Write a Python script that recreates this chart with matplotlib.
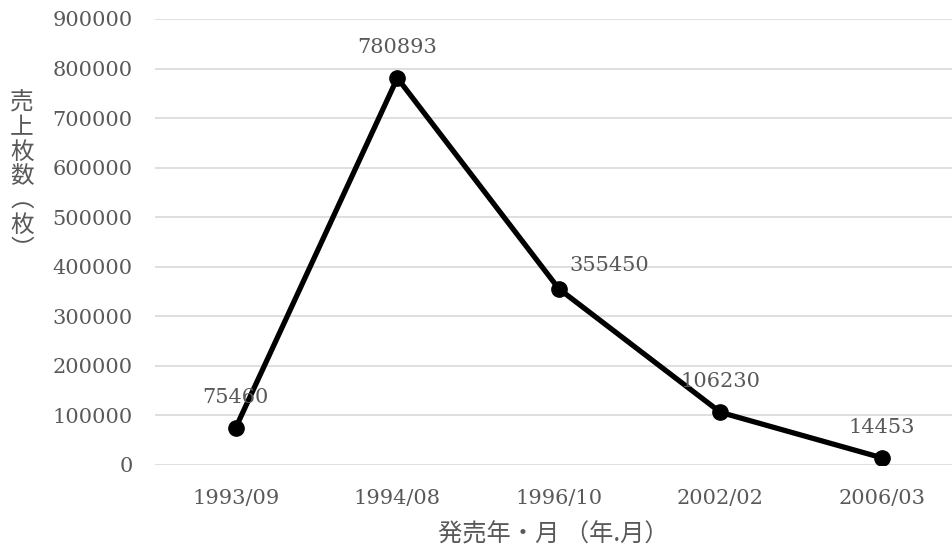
import matplotlib
matplotlib.use('Agg')
import matplotlib.pyplot as plt

plt.rcParams['font.family'] = ['DejaVu Serif', 'Noto Sans CJK JP']

months = ['1993/09', '1994/08', '1996/10', '2002/02', '2006/03']
sales = [75460, 780893, 355450, 106230, 14453]
y_ticks = list(range(0, 900001, 100000))
# label offsets in points (dx, dy); the third label sits off to the right
label_offsets = [(0, 22), (0, 22), (36, 17), (0, 22), (0, 22)]

xlabel = '発売年・月 （年.月）'
ylabel = '売上枚数︵枚︶'

grey = '#595959'

fig = plt.figure(figsize=(9.52, 5.52), dpi=100)
ax = fig.add_axes([155 / 952, 87 / 552, (952 - 155) / 952, 446 / 552])

x = list(range(len(months)))
ax.plot(x, sales, color='black', lw=3.8, marker='o', markersize=11,
        solid_capstyle='round', zorder=3)

for xi, v, (dx, dy) in zip(x, sales, label_offsets):
    ax.annotate(str(v), (xi, v), xytext=(dx, dy), textcoords='offset points',
                ha='center', va='center', fontsize=15, color=grey, zorder=4)

ax.set_xlim(-0.5, 4.433)
ax.set_ylim(0, 900000)
ax.set_xticks(x)
ax.set_xticklabels(months)
ax.set_yticks(y_ticks)
ax.set_yticklabels([str(t) for t in y_ticks])
ax.tick_params(axis='both', length=0, labelsize=15, labelcolor=grey)
ax.tick_params(axis='y', pad=16)
ax.tick_params(axis='x', pad=17)
ax.grid(axis='y', color='#d9d9d9', lw=1.2)
ax.set_axisbelow(True)
for s in ax.spines.values():
    s.set_visible(False)

ax.set_xlabel(xlabel, fontsize=17.5, color=grey, labelpad=10,
              family=['Noto Sans CJK JP', 'DejaVu Serif'])

# vertical stacked axis title
y0 = 552 - 103
pitch = 24.5
for i, ch in enumerate(ylabel):
    fig.text(22 / 952, (y0 - i * pitch) / 552, ch, ha='center', va='center',
             fontsize=17, color=grey, family=['Noto Sans CJK JP'])

fig.savefig('out.png', dpi=100)
